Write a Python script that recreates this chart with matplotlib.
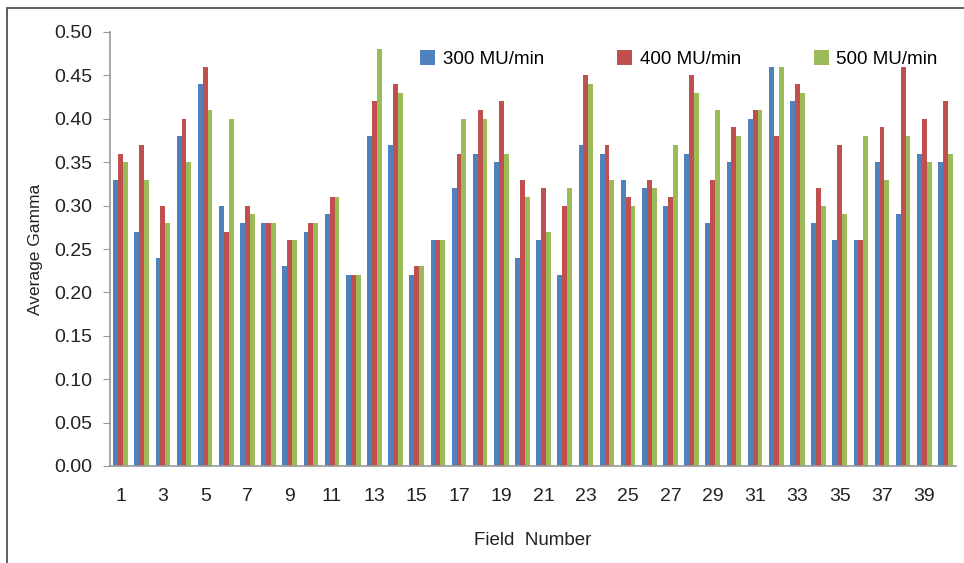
import matplotlib.pyplot as plt
import numpy as np
from matplotlib.patches import Rectangle

plt.rcParams["font.family"] = ["Liberation Sans", "DejaVu Sans"]

fields = list(range(1, 41))
mu300 = [0.33, 0.27, 0.24, 0.38, 0.44, 0.30, 0.28, 0.28, 0.23, 0.27,
         0.29, 0.22, 0.38, 0.37, 0.22, 0.26, 0.32, 0.36, 0.35, 0.24,
         0.26, 0.22, 0.37, 0.36, 0.33, 0.32, 0.30, 0.36, 0.28, 0.35,
         0.40, 0.46, 0.42, 0.28, 0.26, 0.26, 0.35, 0.29, 0.36, 0.35]
mu400 = [0.36, 0.37, 0.30, 0.40, 0.46, 0.27, 0.30, 0.28, 0.26, 0.28,
         0.31, 0.22, 0.42, 0.44, 0.23, 0.26, 0.36, 0.41, 0.42, 0.33,
         0.32, 0.30, 0.45, 0.37, 0.31, 0.33, 0.31, 0.45, 0.33, 0.39,
         0.41, 0.38, 0.44, 0.32, 0.37, 0.26, 0.39, 0.46, 0.40, 0.42]
mu500 = [0.35, 0.33, 0.28, 0.35, 0.41, 0.40, 0.29, 0.28, 0.26, 0.28,
         0.31, 0.22, 0.48, 0.43, 0.23, 0.26, 0.40, 0.40, 0.36, 0.31,
         0.27, 0.32, 0.44, 0.33, 0.30, 0.32, 0.37, 0.43, 0.41, 0.38,
         0.41, 0.46, 0.43, 0.30, 0.29, 0.38, 0.33, 0.38, 0.35, 0.36]

series = [("300 MU/min", mu300, "#4F81BD"),
          ("400 MU/min", mu400, "#C0504D"),
          ("500 MU/min", mu500, "#9BBB59")]

fig = plt.figure(figsize=(9.64, 5.63), dpi=100)
ax = fig.add_axes([110 / 964, 1 - 466 / 563, 846 / 964, 434 / 563])

# grey frame around the whole chart
fig.patches.append(Rectangle((7 / 964, -0.05), 1.1, 1 - 8 / 563 + 0.05,
                             transform=fig.transFigure, fill=False,
                             edgecolor="#444444", linewidth=1.2))

x = np.arange(len(fields))
w = 0.23
for i, (name, vals, col) in enumerate(series):
    ax.bar(x + (i - 1) * w, vals, w, color=col, label=name)

ax.set_xlim(-0.5, len(fields) - 0.5)
ax.set_ylim(0, 0.5)
ax.set_yticks(np.arange(0, 0.51, 0.05))
ax.set_yticklabels([f"{v:.2f}" for v in np.arange(0, 0.51, 0.05)])
ax.set_xticks(x[::2])
ax.set_xticklabels([str(f) for f in fields[::2]])

for s in ["top", "right"]:
    ax.spines[s].set_visible(False)
for s in ["left", "bottom"]:
    ax.spines[s].set_color("#999999")
    ax.spines[s].set_linewidth(1.2)
ax.tick_params(axis="y", direction="out", length=5, color="#999999",
               labelsize=14, pad=8, labelcolor="#222222")
ax.tick_params(axis="x", length=0, labelsize=14, pad=16, labelcolor="#222222")

ax.set_ylabel("Average Gamma", fontsize=12.5, color="#222222", labelpad=8)
ax.set_xlabel("Field  Number", fontsize=13.5, color="#222222", labelpad=19)

ax.legend(loc="center", bbox_to_anchor=(679 / 964, 1 - 59 / 563),
          bbox_transform=fig.transFigure, ncol=3, frameon=False,
          fontsize=13.5, handlelength=0.8, handleheight=0.8,
          handletextpad=0.4, columnspacing=3.9)

fig.savefig("out.png", dpi=100)
